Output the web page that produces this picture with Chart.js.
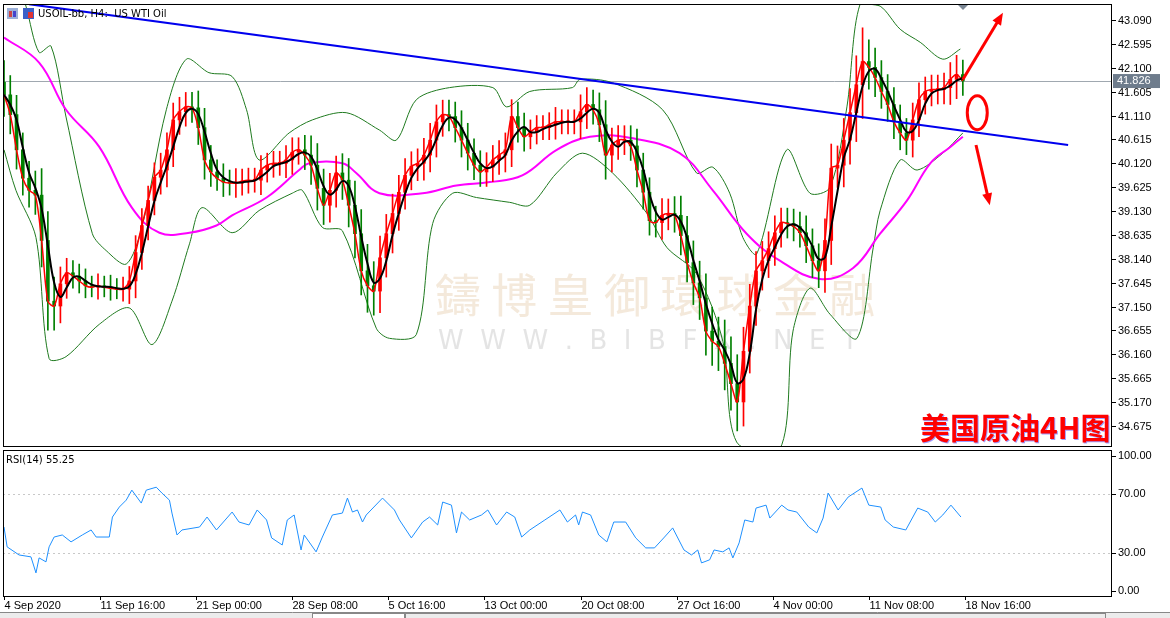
<!DOCTYPE html>
<html><head><meta charset="utf-8">
<script src="https://cdn.jsdelivr.net/npm/chart.js@4.4.0/dist/chart.umd.min.js"></script>
<style>
body{margin:0;background:#fff;}
#wrap{position:relative;width:1170px;height:618px;overflow:hidden;background:#fff;}
canvas{position:absolute;left:0;}
</style></head><body>
<div id="wrap">
<canvas id="main" width="1170" height="449" style="top:0"></canvas>
<canvas id="rsi" width="1170" height="169" style="top:449px"></canvas>
</div>
<script>
// ---- DATA (12h candles, index 0 = 4 Sep 2020) ----
const firstOpen = 41.80;
const closes = [
41.54,41.13,40.40,39.81,39.56,39.46,38.52,37.26,37.16,37.62,
37.85,37.78,37.68,37.58,37.55,37.58,37.55,37.53,37.51,37.51,
37.68,38.27,38.83,39.35,39.83,39.98,40.40,41.02,41.19,41.29,
41.27,40.86,40.19,39.94,39.81,39.73,39.71,39.71,39.75,39.77,
39.77,39.98,40.08,40.12,40.12,40.19,40.35,40.40,40.29,40.08,
39.60,39.25,39.56,39.92,39.77,39.25,38.66,37.89,37.58,37.47,
38.16,38.66,39.08,39.52,39.87,40.06,40.12,40.29,40.60,40.98,
41.13,41.09,40.86,40.60,40.33,40.08,39.94,40.04,40.19,40.29,
40.40,41.09,40.86,40.67,40.77,40.86,40.86,40.92,40.98,40.98,
40.98,40.98,41.19,41.34,41.23,40.92,40.29,40.50,40.60,40.60,
40.48,39.98,39.52,38.93,38.89,39.04,39.08,39.04,38.62,38.06,
37.64,37.33,36.64,36.43,36.32,35.97,35.55,35.17,36.22,37.16,
37.89,38.10,38.35,38.68,38.89,38.87,38.81,38.68,38.41,38.10,
37.89,38.52,40.02,40.08,40.60,41.17,41.75,42.23,42.11,41.90,
41.61,41.34,40.98,40.75,40.60,41.02,41.44,41.61,41.65,41.65,
41.69,41.86,41.96,41.83];
const wick = [
0.45,0.4,0.4,0.35,0.35,0.4,0.55,0.6,0.5,0.35,
0.3,0.25,0.25,0.25,0.2,0.25,0.2,0.25,0.2,0.25,
0.3,0.35,0.35,0.3,0.3,0.35,0.35,0.35,0.3,0.3,
0.3,0.35,0.4,0.3,0.25,0.3,0.25,0.3,0.25,0.25,
0.25,0.3,0.25,0.25,0.25,0.3,0.3,0.25,0.3,0.4,
0.45,0.4,0.35,0.35,0.4,0.45,0.5,0.5,0.55,0.5,
0.45,0.4,0.4,0.35,0.35,0.3,0.3,0.35,0.35,0.35,
0.3,0.3,0.3,0.35,0.35,0.3,0.3,0.3,0.3,0.3,
0.35,0.35,0.3,0.3,0.25,0.25,0.25,0.25,0.3,0.25,
0.25,0.25,0.35,0.35,0.3,0.35,0.5,0.35,0.3,0.3,
0.3,0.35,0.35,0.3,0.3,0.35,0.3,0.35,0.4,0.4,
0.45,0.45,0.5,0.5,0.5,0.55,0.55,0.6,0.5,0.45,
0.4,0.4,0.35,0.35,0.3,0.3,0.3,0.3,0.35,0.35,
0.35,0.45,0.5,0.4,0.45,0.5,0.6,0.7,0.45,0.4,
0.35,0.35,0.35,0.35,0.3,0.35,0.35,0.3,0.3,0.3,
0.3,0.35,0.4,0.3];
const maLong = [[0,42.73],[5.6,42.21],[9.9,41.23],[15.2,40.46],[20.4,39.20],[24.8,38.68],[29.6,38.68],[33.9,38.83],[36.4,39.04],[41.9,39.41],[47.1,39.98],[48.7,40.12],[54.0,40.12],[56.2,39.92],[59.9,39.50],[66.8,39.50],[72.2,39.66],[77.5,39.73],[82.7,39.87],[88.2,40.40],[93.5,40.67],[99.8,40.65],[107.8,40.33],[113.1,39.56],[118.5,38.66],[123.8,38.10],[130.2,37.72],[135.5,37.95],[139.8,38.66],[144.1,39.35],[147.8,40.12],[151.0,40.46],[153.0,40.67]];
const bandUpper = [[1.5,44.2],[3.5,43.38],[5.6,42.42],[7.5,42.55],[9.9,41.08],[14.1,38.66],[16.3,38.31],[19.5,38.03],[22.0,38.79],[25.9,41.23],[29.1,42.28],[32.7,42.00],[36.4,41.92],[38.7,41.23],[40.7,40.19],[45.5,40.75],[49.2,41.02],[54.6,41.17],[59.9,40.81],[62.6,40.60],[65.8,41.44],[71.1,41.69],[78.0,41.69],[80.2,41.29],[83.9,41.61],[90.7,41.69],[91.9,41.86],[97.1,41.79],[105.1,41.23],[110.5,39.92],[113.1,40.04],[115.8,39.50],[117.9,38.58],[120.1,38.24],[124.9,40.40],[128.6,39.50],[131.8,39.62],[134.5,41.29],[136.6,43.42],[139.8,43.38],[143.0,42.90],[146.2,42.63],[149.8,42.28],[152.6,42.49]];
const bandLower = [[0,40.40],[1.9,39.56],[5.1,38.58],[7.2,36.07],[9.9,36.11],[15.2,36.78],[20.0,37.12],[23.6,36.36],[26.8,37.26],[29.6,38.45],[31.6,39.20],[36.4,38.68],[40.7,39.14],[46.0,39.50],[47.6,39.56],[50.8,38.79],[54.0,38.72],[59.4,36.70],[61.5,36.49],[65.8,36.57],[68.4,38.87],[71.6,39.50],[75.4,39.41],[80.7,39.31],[83.9,39.25],[88.2,39.92],[92.3,40.33],[97.1,39.92],[102.6,39.08],[105.8,38.37],[110.5,37.83],[114.7,36.43],[116.9,34.34],[123.8,34.19],[125.9,36.64],[128.6,37.53],[131.8,36.99],[136.1,36.49],[138.7,38.37],[139.8,39.14],[143.0,40.19],[145.7,39.98],[149.8,40.33],[153.0,40.75]];
const trendline = [[4.0,43.42],[169.8,40.50]];
const rsiValues = [[0,47.6],[0.5,34.1],[2.4,28.6],[4.3,27.3],[5.1,16.4],[5.6,26.6],[6.7,23.9],[7.2,34.1],[8.0,40.8],[9.3,42.2],[10.7,37.5],[12.5,42.2],[13.9,45.6],[14.7,40.8],[16.8,40.8],[17.3,54.4],[18.4,61.2],[19.5,65.9],[20.4,72.7],[21.9,63.9],[22.7,72.7],[24.3,74.7],[25.2,70.7],[26.4,65.9],[26.8,57.1],[27.6,42.2],[28.4,45.6],[31.2,47.6],[32.4,54.4],[33.9,45.6],[36.4,57.8],[37.5,51.0],[39.1,49.0],[40.4,59.2],[41.9,52.4],[42.7,40.2],[44.4,35.4],[45.2,52.4],[46.3,55.8],[47.4,32.0],[47.9,42.2],[49.8,30.7],[50.8,40.8],[52.4,55.8],[54.0,57.1],[54.8,67.3],[55.6,57.8],[56.4,59.2],[57.2,51.0],[57.8,55.8],[60.4,67.3],[62.3,59.2],[63.1,52.4],[65.0,40.2],[66.8,51.0],[67.9,54.4],[69.2,49.0],[70.0,64.6],[71.4,62.5],[72.2,43.6],[73.0,57.8],[74.3,52.4],[76.2,55.8],[77.2,59.2],[78.6,49.0],[80.2,57.8],[81.5,54.4],[82.6,40.8],[83.9,45.6],[86.3,52.4],[88.7,59.2],[89.9,51.0],[91.2,55.8],[91.7,49.0],[92.3,57.8],[93.6,55.8],[94.9,42.2],[96.2,37.5],[97.3,51.0],[99.2,51.0],[100.8,40.2],[102.4,33.4],[103.8,33.4],[105.4,40.8],[106.7,47.0],[108.5,32.0],[109.7,28.6],[110.7,32.0],[111.3,23.2],[112.6,25.3],[113.3,32.0],[114.7,30.7],[115.7,33.4],[116.3,26.6],[117.3,36.8],[118.2,52.4],[119.5,51.0],[120.0,60.5],[121.6,62.5],[122.2,53.7],[124.1,62.5],[125.1,59.2],[126.5,57.8],[128.4,47.6],[129.7,43.6],[130.7,53.7],[131.5,70.7],[133.1,59.2],[134.7,68.0],[136.9,74.1],[138.0,62.5],[139.9,61.2],[140.6,52.4],[141.9,47.6],[143.9,45.6],[145.8,60.5],[147.4,57.8],[148.6,51.0],[149.8,55.8],[151.1,62.5],[152.7,54.4]];
const priceTicks = [43.090,42.595,42.100,41.605,41.110,40.615,40.120,39.625,39.130,38.635,38.140,37.645,37.150,36.655,36.160,35.665,35.170,34.675];
const rsiTicks = [100,70,30,0];
const timeLabels = ["4 Sep 2020","11 Sep 16:00","21 Sep 00:00","28 Sep 08:00","5 Oct 16:00","13 Oct 00:00","20 Oct 08:00","27 Oct 16:00","4 Nov 00:00","11 Nov 08:00","18 Nov 16:00"];
const barsPerLabel = 15.333;
const lastPrice = 41.826;
const rsiLast = 55.25;

// ---- derived structures ----
const bodies=[], wicks=[], bodyColors=[], closeLine=[], blackMA=[];
closes.forEach((c,i)=>{
  const o = i? closes[i-1] : firstOpen;
  const lo=Math.min(o,c), hi=Math.max(o,c);
  bodies.push({x:i,y:[lo, hi===lo?hi+0.02:hi]});
  wicks.push({x:i,y:[lo-wick[i], hi+wick[i]]});
  bodyColors.push(c>=o ? '#ff0000' : '#008000');
  closeLine.push({x:i,y:c});
  const s = closes.slice(Math.max(0,i-2),i+1);
  blackMA.push({x:i,y:s.reduce((a,b)=>a+b,0)/s.length});
});
const pts = a=>a.map(p=>({x:p[0],y:p[1]}));
const XMIN=-0.16, XMAX=176.8;
const FONT='11px "Liberation Sans", Arial, sans-serif';

const mainPlugin = {
  id:'mainDeco',
  beforeDatasetsDraw(ch){
    const {ctx,chartArea:a}=ch;
    ctx.save();
    ctx.beginPath();ctx.rect(a.left,a.top,a.right-a.left,a.bottom-a.top);ctx.clip();
    ctx.fillStyle='rgba(235,215,190,0.55)';
    ctx.font='46px "Noto Sans CJK TC", sans-serif';
    ctx.textBaseline='middle';
    ctx.fillText('鑄 博 皇 御 環 球 金 融',435,295);
    ctx.fillStyle='rgba(210,210,210,0.6)';
    ctx.font='26px "DejaVu Sans", sans-serif';
    ctx.fillText('W  W  W  .  B  I  B  F  X  .  N  E  T',438,342);
    const y=ch.scales.y.getPixelForValue(lastPrice);
    ctx.strokeStyle='#a0a8b0';ctx.lineWidth=1;
    ctx.beginPath();ctx.moveTo(a.left,Math.round(y)+0.5);ctx.lineTo(a.right,Math.round(y)+0.5);ctx.stroke();
    ctx.restore();
  },
  afterDraw(ch){
    const {ctx,chartArea:a,scales:{x,y}}=ch;
    ctx.save();
    ctx.strokeStyle='#ff0000';ctx.fillStyle='#ff0000';ctx.lineWidth=3;
    ctx.beginPath();
    ctx.ellipse(x.getPixelForValue(155.3),y.getPixelForValue(41.17),10,17,0,0,Math.PI*2);ctx.stroke();
    const arrow=(x1,y1,x2,y2)=>{
      const X1=x.getPixelForValue(x1),Y1=y.getPixelForValue(y1),X2=x.getPixelForValue(x2),Y2=y.getPixelForValue(y2);
      const ang=Math.atan2(Y2-Y1,X2-X1);
      ctx.beginPath();ctx.moveTo(X1,Y1);ctx.lineTo(X2-8*Math.cos(ang),Y2-8*Math.sin(ang));ctx.stroke();
      ctx.beginPath();ctx.moveTo(X2,Y2);
      ctx.lineTo(X2-12*Math.cos(ang)+5*Math.sin(ang),Y2-12*Math.sin(ang)-5*Math.cos(ang));
      ctx.lineTo(X2-12*Math.cos(ang)-5*Math.sin(ang),Y2-12*Math.sin(ang)+5*Math.cos(ang));
      ctx.closePath();ctx.fill();
    };
    arrow(153.0,41.86,159.4,43.24);
    arrow(155.1,40.50,157.3,39.25);
    ctx.strokeStyle='#000';ctx.lineWidth=1;
    ctx.strokeRect(a.left+0.5,a.top+0.5,a.right-a.left-1,a.bottom-a.top-1);
    ctx.font=FONT;ctx.fillStyle='#000';ctx.textBaseline='middle';ctx.textAlign='left';
    priceTicks.forEach(v=>{
      const py=Math.round(y.getPixelForValue(v))+0.5;
      ctx.beginPath();ctx.moveTo(a.right,py);ctx.lineTo(a.right+4,py);ctx.stroke();
      ctx.fillText(v.toFixed(3),a.right+6,py);
    });
    const ly=y.getPixelForValue(lastPrice);
    ctx.fillStyle='#6e7c8c';ctx.fillRect(a.right+1,ly-7,47,14);
    ctx.fillStyle='#fff';ctx.fillText(lastPrice.toFixed(3),a.right+5,ly);
    ctx.fillStyle='#9cb0d8';ctx.fillRect(7,8,11,11);ctx.fillStyle='#c44';ctx.fillRect(9,11,3,6);ctx.fillStyle='#44c';ctx.fillRect(13,11,3,6);
    ctx.fillStyle='#3a5fc8';ctx.fillRect(23,8,11,11);ctx.fillStyle='#d33';ctx.fillRect(28,12,5,6);
    ctx.fillStyle='#000';ctx.font='10px "DejaVu Sans", sans-serif';
    ctx.fillText('USOIL-bb, H4:  US WTI Oil',38,14);
    ctx.fillStyle='#7a8694';ctx.beginPath();ctx.moveTo(958,5);ctx.lineTo(968,5);ctx.lineTo(963,10);ctx.closePath();ctx.fill();
    // title with faint blue shadow
    ctx.font='bold 30px "Noto Sans CJK SC", sans-serif';ctx.textAlign='left';
    ctx.fillStyle='rgba(60,60,255,0.5)';ctx.fillText('美国原油4H图',921,429);
    ctx.fillStyle='#ff0000';ctx.fillText('美国原油4H图',920,428);
    ctx.restore();
  }
};

new Chart(document.getElementById('main'),{
  type:'bar',
  data:{datasets:[
    {type:'line',data:pts(bandUpper),borderColor:'#1f7a1f',borderWidth:1,pointRadius:0,tension:0.3,order:5},
    {type:'line',data:pts(bandLower),borderColor:'#1f7a1f',borderWidth:1,pointRadius:0,tension:0.3,order:5},
    {type:'line',data:pts(maLong),borderColor:'#ff00ff',borderWidth:2,pointRadius:0,tension:0.4,order:4},
    {data:wicks,backgroundColor:bodyColors,barThickness:1,grouped:false,order:3},
    {data:bodies,backgroundColor:bodyColors,barThickness:3,grouped:false,order:2},
    {type:'line',data:closeLine,borderColor:'#ff0000',borderWidth:1.5,pointRadius:0,tension:0.3,order:1},
    {type:'line',data:blackMA,borderColor:'#000',borderWidth:2,pointRadius:0,tension:0.4,order:0},
    {type:'line',data:pts(trendline),borderColor:'#0000ee',borderWidth:2,pointRadius:0,order:-1}
  ]},
  options:{
    responsive:false,animation:false,
    layout:{padding:{left:3,top:4,right:58,bottom:2}},
    plugins:{legend:{display:false},tooltip:{enabled:false}},
    scales:{
      x:{type:'linear',min:XMIN,max:XMAX,display:false,offset:false},
      y:{min:34.236,max:43.424,display:false}
    }
  },
  plugins:[mainPlugin]
});

const rsiPlugin={
  id:'rsiDeco',
  beforeDatasetsDraw(ch){
    const {ctx,chartArea:a,scales:{y}}=ch;
    ctx.save();ctx.strokeStyle='#c8c8c8';ctx.setLineDash([2,3]);ctx.lineWidth=1;
    [70,30].forEach(v=>{const py=Math.round(y.getPixelForValue(v))+0.5;ctx.beginPath();ctx.moveTo(a.left,py);ctx.lineTo(a.right,py);ctx.stroke();});
    ctx.restore();
  },
  afterDraw(ch){
    const {ctx,chartArea:a,scales:{x,y}}=ch;
    ctx.save();
    ctx.strokeStyle='#000';ctx.lineWidth=1;
    ctx.strokeRect(a.left+0.5,a.top+0.5,a.right-a.left-1,a.bottom-a.top-1);
    ctx.font=FONT;ctx.fillStyle='#000';ctx.textBaseline='middle';ctx.textAlign='left';
    rsiTicks.forEach(v=>{
      let py=y.getPixelForValue(v);
      const lp = v===100? py+6 : (v===0? py-6 : py);
      ctx.beginPath();ctx.moveTo(a.right,Math.round(lp)+0.5);ctx.lineTo(a.right+4,Math.round(lp)+0.5);ctx.stroke();
      ctx.fillText(v.toFixed(2),a.right+6,lp);
    });
    ctx.font='10px "DejaVu Sans", sans-serif';
    ctx.fillText('RSI(14) '+rsiLast.toFixed(2),6,a.top+10);
    ctx.font=FONT;ctx.textBaseline='top';
    timeLabels.forEach((t,k)=>{
      const px=Math.round(x.getPixelForValue(k*barsPerLabel))+0.5;
      ctx.beginPath();ctx.moveTo(px,a.bottom-1);ctx.lineTo(px,a.bottom+3);ctx.stroke();
      ctx.fillText(t,px,a.bottom+3);
    });
    ctx.fillStyle='#ececec';ctx.fillRect(0,163,1170,6);
    ctx.strokeStyle='#888';ctx.beginPath();ctx.moveTo(0,163.5);ctx.lineTo(1170,163.5);ctx.stroke();
    ctx.fillStyle='#fff';ctx.fillRect(312,164,92,5);ctx.strokeRect(312.5,164.5,92,6);ctx.strokeRect(405.5,164.5,700,6);
    ctx.restore();
  }
};

new Chart(document.getElementById('rsi'),{
  type:'line',
  data:{datasets:[{data:pts(rsiValues),borderColor:'#1e90ff',borderWidth:1,pointRadius:0,tension:0}]},
  options:{
    responsive:false,animation:false,
    layout:{padding:{left:3,top:1,right:58,bottom:21}},
    plugins:{legend:{display:false},tooltip:{enabled:false}},
    scales:{
      x:{type:'linear',min:XMIN,max:XMAX,display:false},
      y:{min:0,max:100,display:false}
    }
  },
  plugins:[rsiPlugin]
});
</script>
</body></html>
